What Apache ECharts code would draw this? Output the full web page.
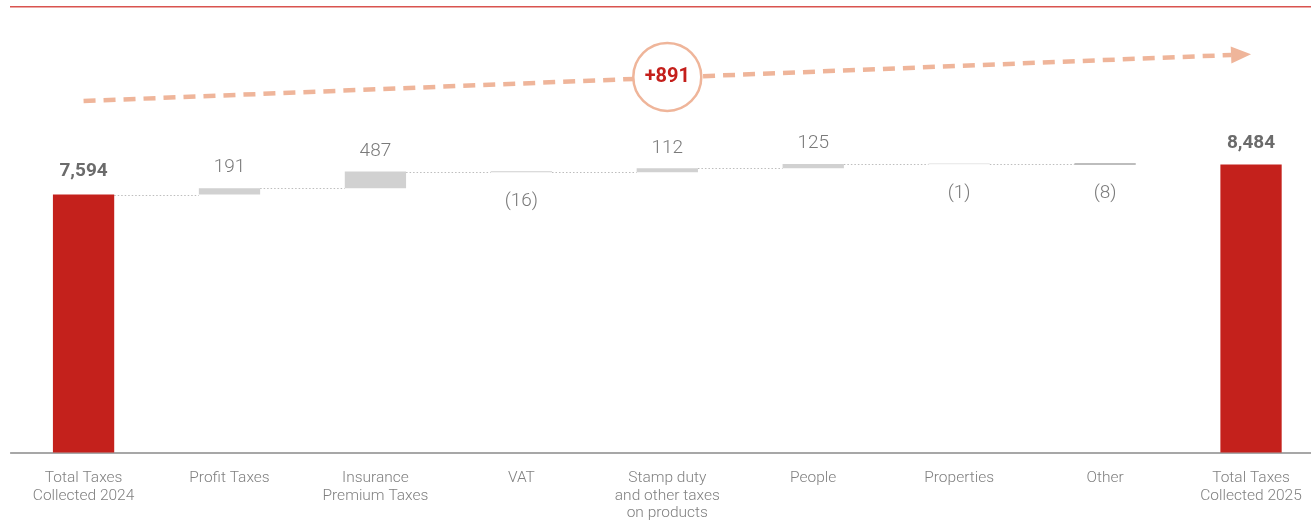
<!DOCTYPE html>
<html>
<head>
<meta charset="utf-8">
<script src="https://cdn.jsdelivr.net/npm/echarts@6/dist/echarts.min.js"></script>
<style>
  html, body { margin: 0; padding: 0; background: #fff; overflow: hidden; }
  /* the plot runs slightly past the right page edge, so the canvas is wider than the page */
  #chart { width: 1324px; height: 522px; }
</style>
</head>
<body>
<div id="chart"></div>
<script>
// Tax contribution bridge: 2024 total, changes by tax type, 2025 total
const categories = [
  'Total Taxes\nCollected 2024',
  'Profit Taxes',
  'Insurance\nPremium Taxes',
  'VAT',
  'Stamp duty\nand other taxes\non products',
  'People',
  'Properties',
  'Other',
  'Total Taxes\nCollected 2025'
];
const total2024 = 7594;
const changes = [191, 487, -16, 112, 125, -1, -8];
const total2025 = 8484;
// headline growth figure as published in the report
const growthHeadline = 891;

const FONT = "Roboto, 'Liberation Sans', sans-serif";
const RED = '#c4211c';
const SALMON = '#efb59a';
const TEXT = '#7a7a7a';

// per-category colours for the change bars (tiny ones render as hairlines)
const changeColors = ['#d1d1d1', '#d1d1d1', '#cfcfcf', '#d1d1d1', '#d1d1d1', '#e6e6e6', '#7d7d7d'];

// running levels, base (invisible) part and visible part of each bar
const levels = [total2024];
changes.forEach(c => levels.push(levels[levels.length - 1] + c));

function totalLabel(v, dist) {
  return {
    show: true, position: 'top', distance: dist,
    formatter: () => v.toLocaleString('en-US'),
    fontWeight: 'bold', color: '#6b6b6b'
  };
}

const baseData = [0];
const barData = [{ value: total2024, itemStyle: { color: RED }, label: totalLabel(total2024, 14) }];
changes.forEach((c, i) => {
  const before = levels[i], after = levels[i + 1];
  baseData.push(Math.min(before, after));
  barData.push({
    value: Math.abs(c),
    itemStyle: { color: changeColors[i] },
    label: c >= 0
      ? { show: true, position: 'top', distance: 11, formatter: String(c) }
      : { show: true, position: 'bottom', distance: 19.5, formatter: '(' + Math.abs(c) + ')' }
  });
});
baseData.push(0);
barData.push({ value: total2025, itemStyle: { color: RED }, label: totalLabel(total2025, 12) });

// connector levels: from bar i to bar i+1
const connectors = levels.map((v, i) => [i, v]);

const BAR_RATIO = 0.42;

const chart = echarts.init(document.getElementById('chart'), null, { renderer: 'canvas' });
chart.setOption({
  animation: false,
  textStyle: { fontFamily: FONT },
  graphic: [{
    type: 'rect',
    shape: { x: 10, y: 6, width: 1314, height: 1.5 },
    style: { fill: '#d9534f' },
    silent: true
  }],
  grid: { left: 10.6, right: 0, top: 45, bottom: 68 },
  xAxis: {
    type: 'category',
    data: categories,
    axisTick: { show: false },
    axisLine: { lineStyle: { color: '#8a8a8a', width: 1.5 } },
    axisLabel: {
      interval: 0, margin: 17, color: '#808080', fontSize: 15.5, lineHeight: 17.5,
      fontFamily: FONT, fontWeight: 300
    }
  },
  yAxis: {
    type: 'value', min: 0, max: 12000, show: false,
    splitLine: { show: false }
  },
  series: [
    {
      type: 'bar', stack: 'w', data: baseData, barWidth: (BAR_RATIO * 100) + '%',
      itemStyle: { color: 'transparent' }, silent: true, z: 2
    },
    {
      type: 'bar', stack: 'w', data: barData, barWidth: (BAR_RATIO * 100) + '%', barMinHeight: 1,
      label: { fontSize: 19, color: TEXT, fontFamily: FONT, fontWeight: 300 },
      z: 3
    },
    {
      type: 'custom',
      data: connectors.slice(0, connectors.length - 1),
      z: 1,
      silent: true,
      renderItem: (params, api) => {
        const i = api.value(0), v = api.value(1);
        const p0 = api.coord([i, v]);
        const p1 = api.coord([i + 1, v]);
        const hw = api.size([1, 0])[0] * BAR_RATIO / 2;
        const y = Math.round(p0[1]) + 0.5;
        return {
          type: 'line',
          shape: { x1: p0[0] + hw, y1: y, x2: p1[0] - hw, y2: y },
          style: { stroke: '#bdbdbd', lineWidth: 1, lineDash: [1.5, 2] }
        };
      }
    },
    {
      // dashed growth arrow from the first total to the last one
      type: 'custom',
      data: [[0, 10350, 8, 11730]],
      encode: { x: [0, 2], y: [1, 3] },
      z: 4,
      silent: true,
      renderItem: (params, api) => {
        const a = api.coord([api.value(0), api.value(1)]);
        const b = api.coord([api.value(2), api.value(3)]);
        const dx = b[0] - a[0], dy = b[1] - a[1];
        const len = Math.hypot(dx, dy);
        const ux = dx / len, uy = dy / len;
        const headLen = 20, headHalf = 8.5;
        const base = [b[0] - ux * headLen, b[1] - uy * headLen];
        const nx = -uy, ny = ux;
        return {
          type: 'group',
          children: [
            {
              type: 'line',
              shape: { x1: a[0], y1: a[1], x2: base[0], y2: base[1] },
              style: { stroke: SALMON, lineWidth: 4.5, lineDash: [12, 8] }
            },
            {
              type: 'polygon',
              shape: {
                points: [
                  [b[0], b[1]],
                  [base[0] + nx * headHalf, base[1] + ny * headHalf],
                  [base[0] - nx * headHalf, base[1] - ny * headHalf]
                ]
              },
              style: { fill: SALMON }
            }
          ]
        };
      }
    },
    {
      // headline change in a circle on the arrow
      type: 'scatter',
      data: [[4, 11060]],
      symbol: 'circle',
      symbolSize: 68,
      itemStyle: { color: '#fff', borderColor: SALMON, borderWidth: 2.5, opacity: 1 },
      label: {
        show: true, position: 'inside', formatter: '+' + growthHeadline.toLocaleString('en-US'),
        color: '#c41f1b', fontWeight: 'bold', fontSize: 20, fontFamily: FONT
      },
      z: 5,
      silent: true
    }
  ]
});
</script>
</body>
</html>
